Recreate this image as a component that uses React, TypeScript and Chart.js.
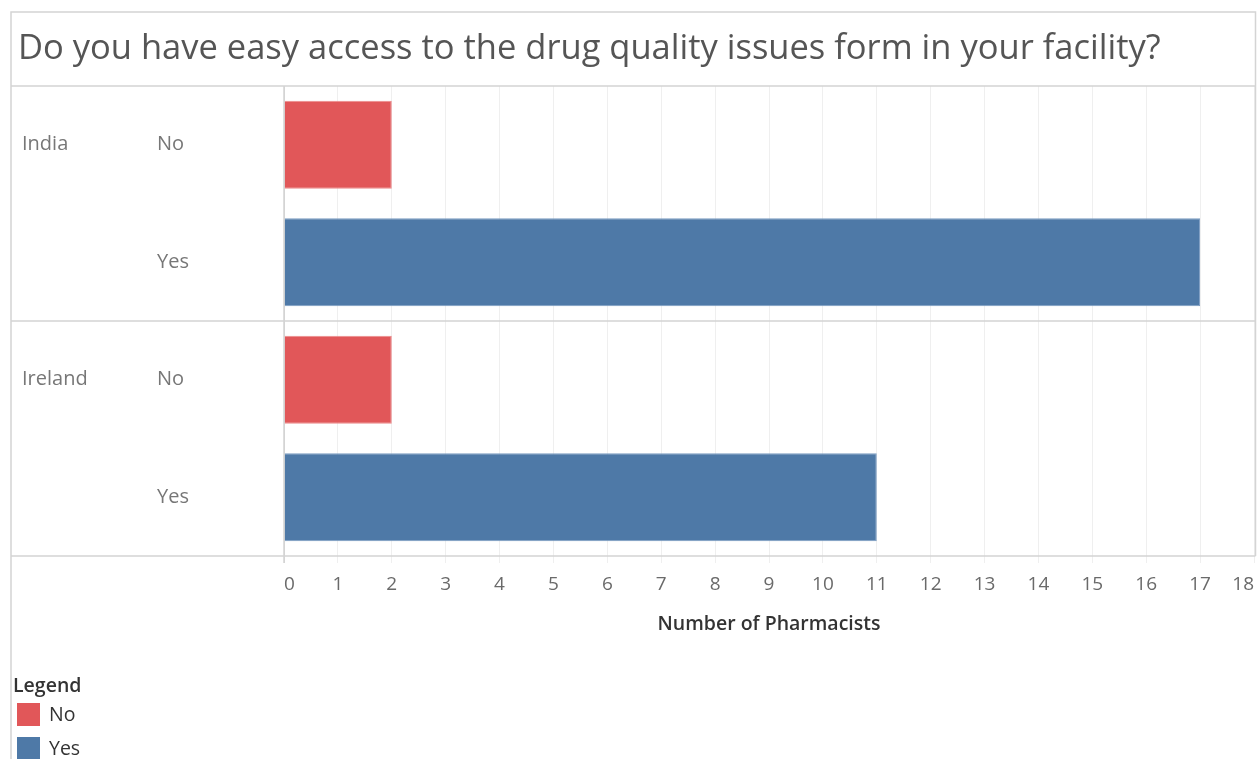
import React, { useEffect, useRef } from 'react';
import { Chart, registerables } from 'chart.js';

Chart.register(...registerables);

const TITLE = 'Do you have easy access to the drug quality issues form in your facility?';
const countries = ['India', 'Ireland'];
const answers = ['No', 'Yes'];
const noCounts = [2, 2];
const yesCounts = [17, 11];
const xTickValues = [0, 1, 2, 3, 4, 5, 6, 7, 8, 9, 10, 11, 12, 13, 14, 15, 16, 17, 18];
const axisTitle = 'Number of Pharmacists';
const legendTitle = 'Legend';
const answerColors = ['#e15759', '#4e79a7'];
const answerBorders = ['#ec8a8b', '#7b9cc2'];

const FONT = '"Open Sans", "DejaVu Sans", sans-serif';
const W = 1258;
const H = 759;

const categories = countries.flatMap((c) => answers.map((a) => `${c}|${a}`));
const countsByAnswer = [noCounts, yesCounts];

const decorPlugin = {
  id: 'decor',
  beforeDraw(chart: any) {
    const { ctx } = chart;
    ctx.save();
    ctx.fillStyle = '#ffffff';
    ctx.fillRect(0, 0, W, H);
    ctx.restore();
  },
  afterDraw(chart: any) {
    const { ctx, chartArea } = chart;
    const yScale = chart.scales.y;
    const left = 11;
    const right = 1255.5;
    ctx.save();
    ctx.strokeStyle = '#d4d4d4';
    ctx.lineWidth = 1.5;
    ctx.beginPath();
    ctx.moveTo(left, H);
    ctx.lineTo(left, 12);
    ctx.lineTo(right, 12);
    ctx.lineTo(right, chartArea.bottom);
    ctx.moveTo(left, chartArea.top);
    ctx.lineTo(right, chartArea.top);
    ctx.moveTo(left, chartArea.bottom);
    ctx.lineTo(right, chartArea.bottom);
    for (let ci = 1; ci < countries.length; ci++) {
      const a = yScale.getPixelForValue(ci * answers.length - 1);
      const b = yScale.getPixelForValue(ci * answers.length);
      const y = (a + b) / 2;
      ctx.moveTo(left, y);
      ctx.lineTo(right, y);
    }
    ctx.moveTo(chartArea.left, chartArea.top);
    ctx.lineTo(chartArea.left, chartArea.bottom + 7);
    ctx.stroke();

    // title
    ctx.fillStyle = '#555555';
    ctx.font = `34.5px ${FONT}`;
    ctx.textBaseline = 'middle';
    ctx.textAlign = 'left';
    ctx.fillText(TITLE, 18, 49);

    // row headers
    ctx.fillStyle = '#777777';
    ctx.font = `20px ${FONT}`;
    categories.forEach((cat, i) => {
      const [c, a] = cat.split('|');
      const y = yScale.getPixelForValue(i);
      if (answers.indexOf(a) === 0) ctx.fillText(c, 22, y);
      ctx.fillText(a, 157, y);
    });

    // legend
    ctx.fillStyle = '#333333';
    ctx.font = `600 19.5px ${FONT}`;
    ctx.fillText(legendTitle, 13, 686);
    ctx.font = `19.5px ${FONT}`;
    answers.forEach((a, i) => {
      const top = 703 + i * 34;
      ctx.fillStyle = answerColors[i];
      ctx.fillRect(17, top, 23, 23);
      ctx.fillStyle = '#333333';
      ctx.fillText(a, 49, top + 12);
    });
    ctx.restore();
  },
};

export default function App() {
  const ref = useRef<HTMLCanvasElement | null>(null);
  useEffect(() => {
    if (!ref.current) return;
    const datasets = answers.map((a, ai) => ({
      label: a,
      data: countries.flatMap((c, ci) =>
        answers.map((b) => (b === a ? countsByAnswer[ai][ci] : null))
      ),
      backgroundColor: answerColors[ai],
      borderColor: answerBorders[ai],
      borderWidth: 1,
      grouped: false,
      categoryPercentage: 1,
      barPercentage: 0.75,
    }));
    const chart = new Chart(ref.current, {
      type: 'bar',
      data: { labels: categories, datasets: datasets as any },
      plugins: [decorPlugin],
      options: {
        indexAxis: 'y',
        responsive: false,
        animation: false,
        devicePixelRatio: 1,
        layout: { padding: { left: 284, top: 86, right: 4, bottom: 123 } },
        plugins: { legend: { display: false }, tooltip: { enabled: false }, title: { display: false } },
        scales: {
          x: {
            type: 'linear',
            min: xTickValues[0],
            max: xTickValues[xTickValues.length - 1],
            afterBuildTicks: (scale: any) => {
              scale.ticks = xTickValues.map((v) => ({ value: v }));
            },
            afterFit: (scale: any) => {
              scale.height = 80;
              scale.paddingLeft = 0;
              scale.paddingRight = 0;
            },
            ticks: {
              align: 'inner',
              color: '#6a6a6a',
              font: { family: FONT, size: 19 },
              padding: 10,
              maxRotation: 0,
              autoSkip: false,
            },
            grid: {
              color: (c: any) => (c.tick && c.tick.value === 0 ? '#d4d4d4' : '#efefef'),
              tickLength: 7,
              drawTicks: true,
            },
            border: { display: false },
            title: {
              display: true,
              text: axisTitle,
              color: '#333333',
              font: { family: FONT, size: 19.5, weight: '600' },
              padding: { top: 0, bottom: 0 },
            },
          },
          y: {
            display: false,
          },
        },
      } as any,
    });
    return () => chart.destroy();
  }, []);
  return (
    <div style={{ position: 'absolute', left: 0, top: 0, width: W, height: H }}>
      <canvas ref={ref} width={W} height={H} style={{ display: 'block', width: W, height: H }} />
    </div>
  );
}
